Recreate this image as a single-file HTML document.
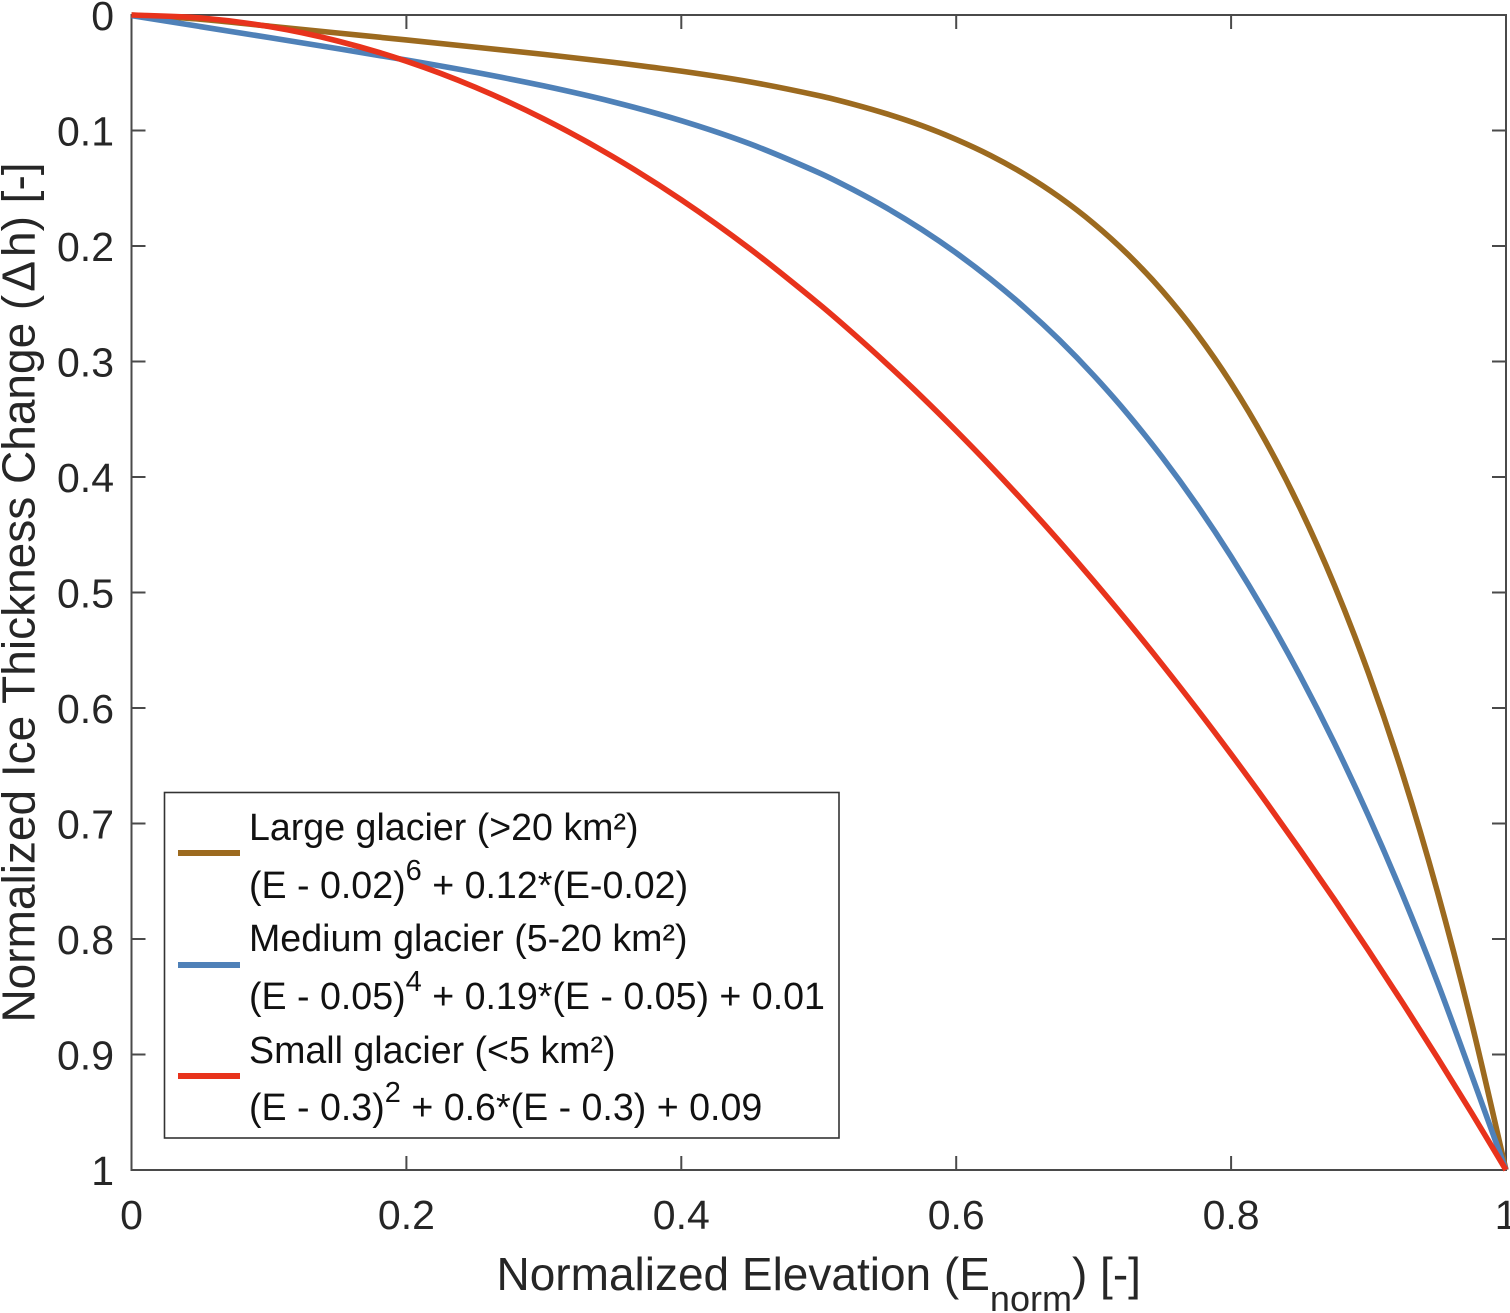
<!DOCTYPE html>
<html lang="en">
<head>
<meta charset="utf-8">
<title>Normalized ice thickness change vs elevation</title>
<style>
html,body{margin:0;padding:0;background:#fff;width:1510px;height:1313px;overflow:hidden}
svg{display:block;font-family:"Liberation Sans",Arial,sans-serif}
text{fill:#262626}
</style>
</head>
<body>
<svg id="chart" width="1510" height="1313" viewBox="0 0 1510 1313" xmlns="http://www.w3.org/2000/svg">
  <g id="series-layer"></g>
  <rect x="131.5" y="15" width="1374.5" height="1155" fill="none" stroke="#4a4a4a" stroke-width="2"></rect>
  <g id="tick-layer"></g>
  <text x="496.5" y="1290" font-size="46">Normalized Elevation (E<tspan font-size="36" dy="21">norm</tspan><tspan dy="-21">) [-]</tspan></text>
  <text transform="translate(34.5,592.5) rotate(-90)" text-anchor="middle" font-size="46">Normalized Ice Thickness Change (<tspan dx="3">&#916;</tspan><tspan dx="4">h) [-]</tspan></text>
  <g id="legend">
    <rect x="164.5" y="792.5" width="674.5" height="345.5" fill="#fff" stroke="#333" stroke-width="1.6"></rect>
    <line x1="178" y1="853" x2="240" y2="853" stroke="#9c6a1f" stroke-width="6"></line>
    <line x1="178" y1="965" x2="240" y2="965" stroke="#4f81b8" stroke-width="6"></line>
    <line x1="178" y1="1076" x2="240" y2="1076" stroke="#e8331c" stroke-width="6"></line>
    <text x="249" y="840" font-size="37.6" style="fill:#111">Large glacier (&gt;20 km²)</text>
    <text x="249" y="898" font-size="37.6" style="fill:#111">(E - 0.02)<tspan font-size="29" dy="-18">6</tspan><tspan dy="18"> + 0.12*(E-0.02)</tspan></text>
    <text x="249" y="951" font-size="37.6" style="fill:#111">Medium glacier (5-20 km²)</text>
    <text x="249" y="1009" font-size="37.6" style="fill:#111">(E - 0.05)<tspan font-size="29" dy="-18">4</tspan><tspan dy="18"> + 0.19*(E - 0.05) + 0.01</tspan></text>
    <text x="249" y="1063" font-size="37.6" style="fill:#111">Small glacier (&lt;5 km²)</text>
    <text x="249" y="1120" font-size="37.6" style="fill:#111">(E - 0.3)<tspan font-size="29" dy="-18">2</tspan><tspan dy="18"> + 0.6*(E - 0.3) + 0.09</tspan></text>
  </g>
</svg>
<script>
const xTickValues = [0, 0.2, 0.4, 0.6, 0.8, 1];
const xTickLabels = ['0', '0.2', '0.4', '0.6', '0.8', '1'];
const yTickValues = [0, 0.1, 0.2, 0.3, 0.4, 0.5, 0.6, 0.7, 0.8, 0.9, 1];
const yTickLabels = ['0', '0.1', '0.2', '0.3', '0.4', '0.5', '0.6', '0.7', '0.8', '0.9', '1'];
const elevation = [0,0.05,0.1,0.15,0.2,0.25,0.3,0.35,0.4,0.45,0.5,0.525,0.55,0.575,0.6,0.625,0.65,0.675,0.7,0.725,0.75,0.775,0.8,0.825,0.85,0.875,0.9,0.925,0.95,0.975,1];
const largeGlacier = [0,0.0036,0.0096,0.0156,0.0216,0.0278,0.0341,0.0409,0.0486,0.0579,0.0698,0.0772,0.0858,0.0958,0.1077,0.1216,0.1381,0.1576,0.1805,0.2074,0.2389,0.2758,0.3188,0.3687,0.4265,0.4932,0.57,0.658,0.7586,0.8726,1];
const mediumGlacier = [0.0005,0.01,0.0195,0.0291,0.039,0.0496,0.0614,0.0751,0.0915,0.1116,0.1365,0.1512,0.1675,0.1857,0.206,0.2286,0.2536,0.2813,0.312,0.3458,0.3831,0.424,0.4689,0.518,0.5716,0.63,0.6935,0.7624,0.8371,0.9178,1];
const smallGlacier = [0,0.0025,0.01,0.0225,0.04,0.0625,0.09,0.1225,0.16,0.2025,0.25,0.2756,0.3025,0.3306,0.36,0.3906,0.4225,0.4556,0.49,0.5256,0.5625,0.6006,0.64,0.6806,0.7225,0.7656,0.81,0.8556,0.9025,0.9506,1];

const SVG_NS = 'http://www.w3.org/2000/svg';
const xAxis = v => 131.5 + v * 1374.5;
const yAxis = v => 15 + v * 1155;
const chartSvg = document.getElementById('chart');
const seriesLayer = document.getElementById('series-layer');
const tickLayer = document.getElementById('tick-layer');

/* Smooth curve through the data points using Hermite tangents converted to Beziers */
function curvePath(values) {
  const pts = values.map((v, i) => [xAxis(elevation[i]), yAxis(v)]);
  const n = pts.length;
  const slope = [];
  for (let i = 0; i < n; i++) {
    const a = pts[Math.max(i - 1, 0)];
    const b = pts[Math.min(i + 1, n - 1)];
    slope.push((b[1] - a[1]) / (b[0] - a[0]));
  }
  let d = 'M' + pts[0][0].toFixed(2) + ' ' + pts[0][1].toFixed(2);
  for (let i = 0; i < n - 1; i++) {
    const h = (pts[i + 1][0] - pts[i][0]) / 3;
    d += ' C' + (pts[i][0] + h).toFixed(2) + ' ' + (pts[i][1] + slope[i] * h).toFixed(2) +
         ' ' + (pts[i + 1][0] - h).toFixed(2) + ' ' + (pts[i + 1][1] - slope[i + 1] * h).toFixed(2) +
         ' ' + pts[i + 1][0].toFixed(2) + ' ' + pts[i + 1][1].toFixed(2);
  }
  return d;
}

function drawSeries(values, color) {
  const line = document.createElementNS(SVG_NS, 'path');
  
  
  line.setAttribute('d', curvePath(values));
  line.setAttribute('fill', 'none');
  line.setAttribute('stroke', color);
  line.setAttribute('stroke-width', '5.6');
  line.setAttribute('stroke-linejoin', 'round');
  seriesLayer.appendChild(line);
}

function addTick(x1, y1, x2, y2) {
  const tick = document.createElementNS(SVG_NS, 'line');
  
  
  tick.setAttribute('x1', x1);
  tick.setAttribute('y1', y1);
  tick.setAttribute('x2', x2);
  tick.setAttribute('y2', y2);
  tick.setAttribute('stroke', '#4a4a4a');
  tick.setAttribute('stroke-width', '2');
  tickLayer.appendChild(tick);
}

function addLabel(x, y, anchor, str) {
  const label = document.createElementNS(SVG_NS, 'text');
  
  
  label.setAttribute('x', x);
  label.setAttribute('y', y);
  label.setAttribute('text-anchor', anchor);
  label.setAttribute('font-size', '41');
  label.textContent = str;
  tickLayer.appendChild(label);
}

xTickValues.forEach((v, i) => {
  const x = xAxis(v);
  addTick(x, 1170, x, 1156);
  addTick(x, 15, x, 29);
  addLabel(x, 1229, 'middle', xTickLabels[i]);
});
yTickValues.forEach((v, i) => {
  const y = yAxis(v);
  addTick(131.5, y, 145.5, y);
  addTick(1506, y, 1492, y);
  addLabel(114, y + 15, 'end', yTickLabels[i]);
});

drawSeries(largeGlacier, '#9c6a1f');
drawSeries(mediumGlacier, '#4f81b8');
drawSeries(smallGlacier, '#e8331c');
chartSvg.appendChild(seriesLayer);
chartSvg.appendChild(document.getElementById('legend'));
</script>
</body>
</html>
